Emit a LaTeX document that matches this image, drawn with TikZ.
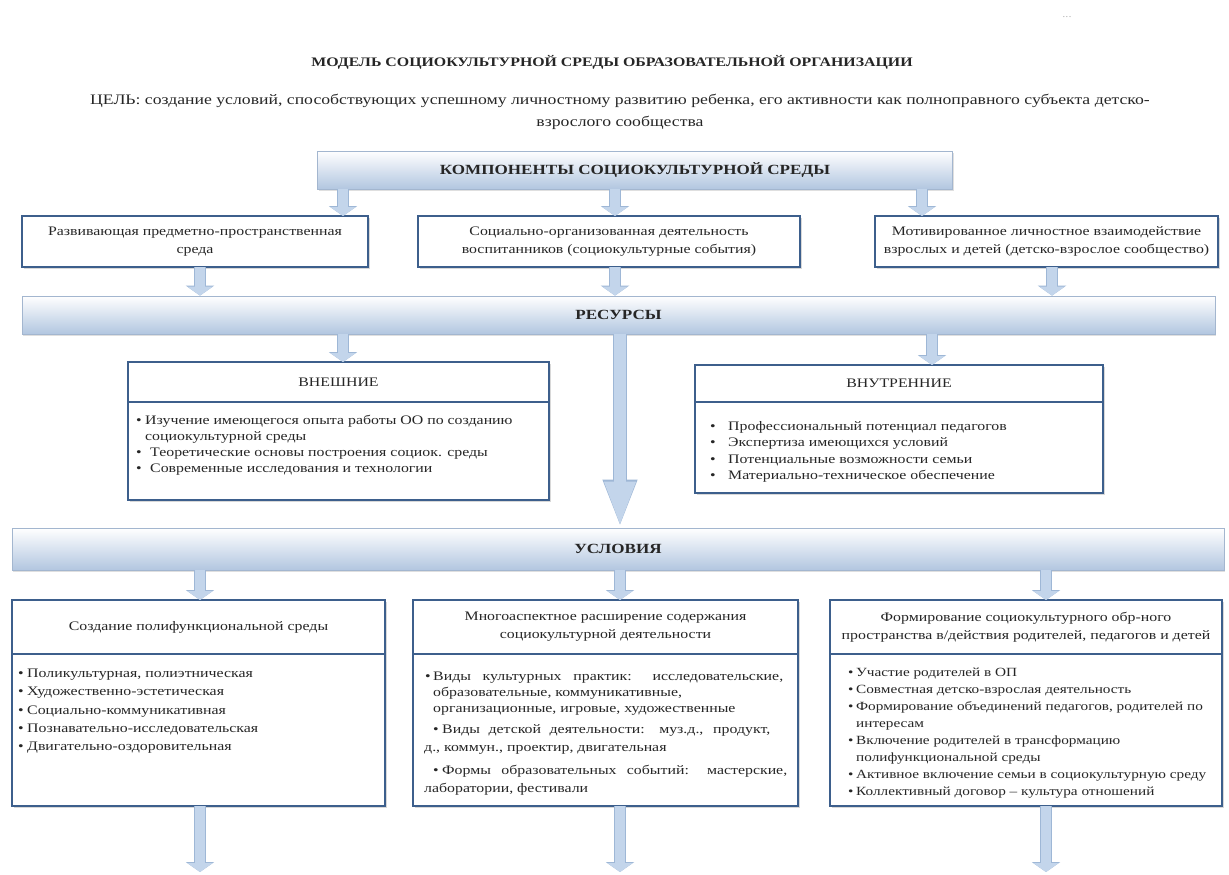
\documentclass[tikz,border=0pt]{standalone}
\usepackage{fontspec}
\setmainfont{Liberation Serif}[FakeStretch=1.22]
\usetikzlibrary{positioning, arrows.meta, shadows}

\definecolor{frame}{HTML}{3D5F8C}
\definecolor{barline}{HTML}{A3B6CF}
\definecolor{barbottom}{HTML}{B2C6E0}
\definecolor{arrowfill}{HTML}{C3D5EB}
\definecolor{arrowedge}{HTML}{9EB7D6}
\definecolor{ink}{HTML}{262626}

\newcommand{\pnt}[1][10pt]{\makebox[#1][l]{\textbullet}}

\tikzset{
    box/.style={draw=frame, line width=2pt, fill=white, outer sep=0pt, text=ink, align=center,
        font=\fontsize{13}{18}\selectfont,
        drop shadow={shadow xshift=1.5pt, shadow yshift=-1.5pt, opacity=0.3}}, % framed boxes
    bar/.style={draw=barline, line width=0.8pt, top color=white, bottom color=barbottom, text=ink,
        font=\fontsize{14}{16}\selectfont\bfseries,
        drop shadow={shadow xshift=1pt, shadow yshift=-1.5pt, opacity=0.25}}, % gradient headings
    items/.style={anchor=north west, align=left, inner sep=0pt, text=ink}, % bullet lists
    fat/.style={draw=arrowfill, line width=10pt, -{Triangle[width=25pt,length=9pt]},
        preaction={draw=arrowedge, line width=12pt, -{Triangle[width=28pt,length=10pt]}}}, % block arrows
    bigfat/.style={draw=arrowfill, line width=12pt, -{Triangle[width=28pt,length=46pt]},
        preaction={draw=arrowedge, line width=14pt, -{Triangle[width=31pt,length=48pt]}}}, % long arrow
}

\begin{document}
\begin{tikzpicture}[x=1pt, y=-1pt]
    \fill[white] (0,0) rectangle (1229,875);
    \useasboundingbox (0,0) rectangle (1229,875);

    % heading
    \node[text=gray!55, font=\fontsize{10}{11}\selectfont] (dots) at (1067,17) {...};
    \node[text=ink, font=\fontsize{13}{16}\selectfont\bfseries] (title) at (612,62)
        {МОДЕЛЬ СОЦИОКУЛЬТУРНОЙ СРЕДЫ ОБРАЗОВАТЕЛЬНОЙ ОРГАНИЗАЦИИ};
    \node[text=ink, align=center, font=\fontsize{14.5}{22}\selectfont] (goal) at (620,112)
        {ЦЕЛЬ:  создание условий, способствующих успешному личностному развитию ребенка, его активности как полноправного субъекта детско-\\взрослого сообщества};

    % components
    \node[bar, minimum width=635pt, minimum height=38pt] (comp) at (635,170) {КОМПОНЕНТЫ СОЦИОКУЛЬТУРНОЙ СРЕДЫ};
    \node[box, minimum width=346pt, minimum height=51pt] (envir) at (195,241.5)
        {Развивающая предметно-пространственная\\среда};
    \node[box, minimum width=382pt, minimum height=51pt] (events) at (609,241.5)
        {Социально-организованная деятельность\\воспитанников (социокультурные события)};
    \node[box, minimum width=343pt, minimum height=51pt] (commun) at (1046.5,241.5)
        {Мотивированное личностное взаимодействие\\взрослых и детей (детско-взрослое сообщество)};

    % resources
    \node[bar, minimum width=1193pt, minimum height=38pt] (res) at (618.5,315) {РЕСУРСЫ};
    \node[box, minimum width=421pt, minimum height=40pt] (ext) at (338.5,382) {ВНЕШНИЕ};
    \node[box, minimum width=421pt, minimum height=98pt, below=0pt of ext] (extl) {};
    \node[items, font=\fontsize{13}{16}\selectfont] (extitems) at (136,415)
        {\pnt[9pt]Изучение имеющегося опыта работы ОО по созданию\\
         \hspace*{9pt}социокультурной  среды\\
         \pnt[14pt]Теоретические основы построения социок.  среды\\
         \pnt[14pt]Современные исследования и технологии};
    \node[box, minimum width=408pt, minimum height=37pt] (int) at (899,383.5) {ВНУТРЕННИЕ};
    \node[box, minimum width=408pt, minimum height=91pt, below=0pt of int] (intl) {};
    \node[items, font=\fontsize{13}{16.5}\selectfont] (intitems) at (710,421)
        {\pnt[18pt]Профессиональный потенциал педагогов\\
         \pnt[18pt]Экспертиза имеющихся условий\\
         \pnt[18pt]Потенциальные возможности  семьи\\
         \pnt[18pt]Материально-техническое обеспечение};

    % conditions
    \node[bar, minimum width=1212pt, minimum height=42pt] (cond) at (618,549) {УСЛОВИЯ};
    \node[box, minimum width=373pt, minimum height=54pt] (poly) at (198.5,627) {Создание полифункциональной  среды};
    \node[box, minimum width=373pt, minimum height=152pt, below=0pt of poly] (polyl) {};
    \node[items, font=\fontsize{13}{18.25}\selectfont] (polyitems) at (18,669)
        {\pnt[9pt]Поликультурная, полиэтническая\\
         \pnt[9pt]Художественно-эстетическая\\
         \pnt[9pt]Социально-коммуникативная\\
         \pnt[9pt]Познавательно-исследовательская\\
         \pnt[9pt]Двигательно-оздоровительная};
    \node[box, minimum width=385pt, minimum height=54pt] (cont) at (605.5,627)
        {Многоаспектное расширение содержания\\социокультурной деятельности};
    \node[box, minimum width=385pt, minimum height=152pt, below=0pt of cont] (contl) {};
    \node[items, font=\fontsize{13}{16}\selectfont] (contitems) at (424,672)
        {\hspace*{1pt}\pnt[8pt]\makebox[350pt][s]{Виды культурных практик:  исследовательские,}\\
         \hspace*{9pt}образовательные, коммуникативные,\\
         \hspace*{9pt}организационные, игровые, художественные\\[5pt]
         \hspace*{9pt}\pnt[9pt]\makebox[328pt][s]{Виды детской деятельности:  муз.д., продукт,}\\[2pt]
         д., коммун., проектир, двигательная\\[7pt]
         \hspace*{9pt}\pnt[9pt]\makebox[345pt][s]{Формы образовательных событий:  мастерские,}\\[2pt]
         лаборатории, фестивали};
    \node[box, minimum width=392pt, minimum height=54pt] (fam) at (1026,627)
        {Формирование социокультурного обр-ного\\пространства в/действия родителей, педагогов и детей};
    \node[box, minimum width=392pt, minimum height=152pt, below=0pt of fam] (faml) {};
    \node[items, font=\fontsize{12.5}{17}\selectfont] (famitems) at (848,668)
        {\pnt[8pt]Участие родителей в ОП\\
         \pnt[8pt]Совместная детско-взрослая деятельность\\
         \pnt[8pt]Формирование объединений педагогов, родителей по\\
         \hspace*{8pt}интересам\\
         \pnt[8pt]Включение родителей в трансформацию\\
         \hspace*{8pt}полифункциональной среды\\
         \pnt[8pt]Активное включение семьи в социокультурную среду\\
         \pnt[8pt]Коллективный договор – культура отношений};

    % columns of the arrows
    \coordinate (ca) at (343,0);
    \coordinate (cb) at (615,0);
    \coordinate (cc) at (922,0);
    \coordinate (cd) at (200,0);
    \coordinate (ce) at (1052,0);
    \coordinate (cf) at (620,0);
    \coordinate (cg) at (932,0);
    \coordinate (ch) at (1046,0);
    \coordinate (out1) at (200,872);
    \coordinate (out2) at (620,872);
    \coordinate (out3) at (1046,872);

    \draw[fat] (comp.south -| ca) -- (envir.north -| ca);
    \draw[fat] (comp.south -| cb) -- (events.north -| cb);
    \draw[fat] (comp.south -| cc) -- (commun.north -| cc);
    \draw[fat] (envir.south -| cd) -- (res.north -| cd);
    \draw[fat] (events.south -| cb) -- (res.north -| cb);
    \draw[fat] (commun.south -| ce) -- (res.north -| ce);
    \draw[fat] (res.south -| ca) -- (ext.north -| ca);
    \draw[fat] (res.south -| cg) -- (int.north -| cg);
    \draw[bigfat] (res.south -| cf) -- (cond.north -| cf);
    \draw[fat] (cond.south -| cd) -- (poly.north -| cd);
    \draw[fat] (cond.south -| cf) -- (cont.north -| cf);
    \draw[fat] (cond.south -| ch) -- (fam.north -| ch);
    \draw[fat] (polyl.south -| out1) -- (out1);
    \draw[fat] (contl.south -| out2) -- (out2);
    \draw[fat] (faml.south -| out3) -- (out3);
\end{tikzpicture}
\end{document}
